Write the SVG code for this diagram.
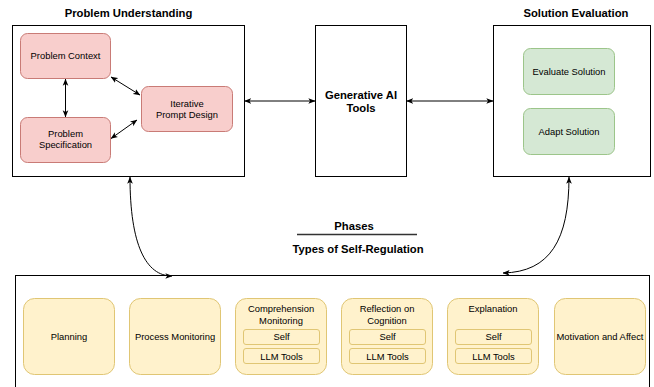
<svg xmlns="http://www.w3.org/2000/svg" width="654" height="387" viewBox="0 0 654 387">
<defs>
<marker id="ah" viewBox="0 0 10 10" refX="9.5" refY="5" markerWidth="7" markerHeight="7" markerUnits="userSpaceOnUse" orient="auto-start-reverse">
<path d="M0,1 L10,5 L0,9 L2.5,5 z" fill="#000"/>
</marker>
<style>
text{font-family:"Liberation Sans",Arial,sans-serif;fill:#000;text-anchor:middle}
.t{font-size:9.4px}
.b{font-size:11.25px;font-weight:bold}
.box{fill:#fff;stroke:#000;stroke-width:1}
.red{fill:#f8cecc;stroke:#c97b76;stroke-width:1}
.grn{fill:#d5e8d4;stroke:#9cc58a;stroke-width:1}
.yel{fill:#fff2cc;stroke:#e0c674;stroke-width:1}
.edge{fill:none;stroke:#000;stroke-width:1;marker-start:url(#ah);marker-end:url(#ah)}
</style>
</defs>
<rect width="654" height="387" fill="#fff"/>

<g id="problem-understanding">
<text class="b" x="128.5" y="17.3">Problem Understanding</text>
<rect class="box" x="12.5" y="25.5" width="232" height="151"/>
</g>
<g id="problem-context">
<rect class="red" x="20.5" y="33.5" width="90" height="45" rx="7"/>
<text class="t" x="65.5" y="59.2">Problem Context</text>
</g>
<g id="problem-specification">
<rect class="red" x="20.5" y="117.5" width="90" height="45" rx="7"/>
<text class="t" x="65.5" y="136.6">Problem</text>
<text class="t" x="65.5" y="148.3">Specification</text>
</g>
<g id="iterative-prompt-design">
<rect class="red" x="141.5" y="86.5" width="91" height="45" rx="7"/>
<text class="t" x="187" y="106.6">Iterative</text>
<text class="t" x="187" y="117.6">Prompt Design</text>
</g>

<g id="generative-ai-tools">
<rect class="box" x="315.5" y="25.5" width="91" height="151"/>
<text class="b" x="361" y="98.9">Generative AI</text>
<text class="b" x="361" y="112.2">Tools</text>
</g>

<g id="solution-evaluation">
<text class="b" x="576" y="17.3">Solution Evaluation</text>
<rect class="box" x="493.5" y="25.5" width="157" height="151"/>
</g>
<g id="evaluate-solution">
<rect class="grn" x="523.5" y="48.5" width="91" height="46" rx="7"/>
<text class="t" x="569" y="75">Evaluate Solution</text>
</g>
<g id="adapt-solution">
<rect class="grn" x="523.5" y="108.5" width="91" height="46" rx="7"/>
<text class="t" x="569" y="135">Adapt Solution</text>
</g>

<g id="legend">
<text class="b" x="354" y="229.9">Phases</text>
<line x1="297" y1="234.5" x2="417" y2="234.5" stroke="#333" stroke-width="1.5"/>
<text class="b" x="358" y="253.2">Types of Self-Regulation</text>
</g>

<g id="self-regulation">
<rect class="box" x="15.5" y="275.5" width="634" height="140" stroke="#333"/>
</g>
<g id="planning">
<rect class="yel" x="23.5" y="298.5" width="91" height="76" rx="11"/>
<text class="t" x="69" y="340">Planning</text>
</g>
<g id="process-monitoring">
<rect class="yel" x="129.5" y="298.5" width="91" height="76" rx="11"/>
<text class="t" x="175" y="340">Process Monitoring</text>
</g>
<g id="comprehension-monitoring">
<rect class="yel" x="235.5" y="298.5" width="91" height="76" rx="11"/>
<text class="t" x="281" y="312.3">Comprehension</text>
<text class="t" x="281" y="323.6">Monitoring</text>
<rect class="yel" x="243.5" y="329.5" width="76" height="15" rx="2.5"/>
<text class="t" x="281.5" y="340">Self</text>
<rect class="yel" x="243.5" y="348.5" width="76" height="15" rx="2.5"/>
<text class="t" x="281.5" y="359.5">LLM Tools</text>
</g>
<g id="reflection-on-cognition">
<rect class="yel" x="341.5" y="298.5" width="91" height="76" rx="11"/>
<text class="t" x="387" y="312.3">Reflection on</text>
<text class="t" x="387" y="323.6">Cognition</text>
<rect class="yel" x="349.5" y="329.5" width="76" height="15" rx="2.5"/>
<text class="t" x="387.5" y="340">Self</text>
<rect class="yel" x="349.5" y="348.5" width="76" height="15" rx="2.5"/>
<text class="t" x="387.5" y="359.5">LLM Tools</text>
</g>
<g id="explanation">
<rect class="yel" x="447.5" y="298.5" width="91" height="76" rx="11"/>
<text class="t" x="493" y="312.3">Explanation</text>
<rect class="yel" x="455.5" y="329.5" width="76" height="15" rx="2.5"/>
<text class="t" x="493.5" y="340">Self</text>
<rect class="yel" x="455.5" y="348.5" width="76" height="15" rx="2.5"/>
<text class="t" x="493.5" y="359.5">LLM Tools</text>
</g>
<g id="motivation-and-affect">
<rect class="yel" x="554.5" y="298.5" width="91" height="76" rx="11"/>
<text class="t" x="600" y="340">Motivation and Affect</text>
</g>

<g id="connectors">
<path class="edge" d="M65.5,79 L65.5,117"/>
<path class="edge" d="M111,77 L140,95"/>
<path class="edge" d="M111,138.5 L137,120"/>
<path class="edge" d="M244.5,101 L315,101"/>
<path class="edge" d="M406.5,101 L493,101"/>
<path class="edge" d="M130,177 C130,245 146,276 172,276"/>
<path class="edge" d="M569,177 C569,240 550,272 503,273"/>
</g>
</svg>
